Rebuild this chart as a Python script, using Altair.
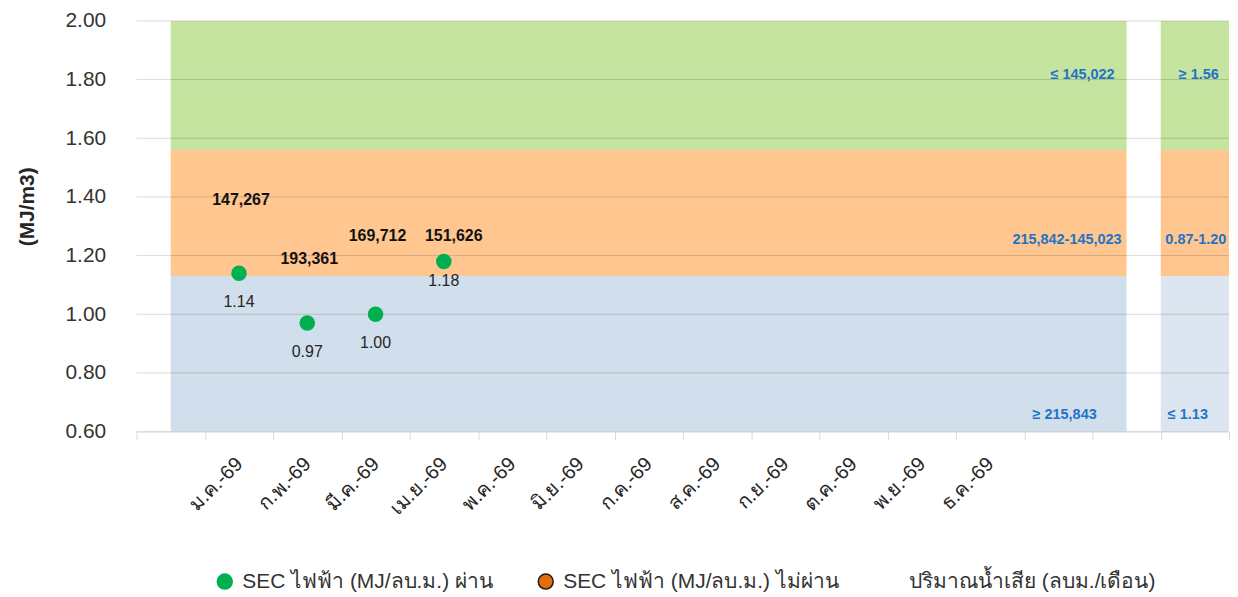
import altair as alt
import pandas as pd

FONT = "Liberation Sans, Arial, sans-serif"

# ---- data ----
months = ["ม.ค.-69", "ก.พ.-69", "มี.ค.-69", "เม.ย.-69", "พ.ค.-69", "มิ.ย.-69",
          "ก.ค.-69", "ส.ค.-69", "ก.ย.-69", "ต.ค.-69", "พ.ย.-69", "ธ.ค.-69"]
sec_months = ["ม.ค.-69", "ก.พ.-69", "มี.ค.-69", "เม.ย.-69"]
sec_values = [1.14, 0.97, 1.00, 1.18]
volumes = [147267, 193361, 169712, 151626]

series_names = ["SEC ไฟฟ้า (MJ/ลบ.ม.) ผ่าน", "SEC ไฟฟ้า (MJ/ลบ.ม.) ไม่ผ่าน", "ปริมาณน้ำเสีย (ลบม./เดือน)"]

zone_lo = [0.60, 1.13, 1.56]
zone_hi = [1.13, 1.56, 2.00]
main_labels = ["≥ 215,843", "215,842-145,023", "≤ 145,022"]
side_labels = ["≤ 1.13", "0.87-1.20", "≥ 1.56"]
y_ticks = [0.6, 0.8, 1.0, 1.2, 1.4, 1.6, 1.8, 2.0]

# ---- styles ----
zone_fill_main = ["#D1DEEC", "#FFC68F", "#C5E4A0"]
zone_fill_side = ["#DCE5F0", "#FFC68F", "#C5E4A0"]
series_fill = ["#00B050", "#E46C0A", "transparent"]
series_stroke = ["#00B050", "#1A1A1A", "transparent"]
cats = ["_0"] + months + ["_13", "_14", "_15"]

xscale = alt.Scale(domain=cats, paddingInner=0, paddingOuter=0)
yscale = alt.Scale(domain=[0.6, 2.0], nice=False, zero=False)

xaxis = alt.Axis(
    title=None, tickBand="extent", labelAngle=315, labelAlign="right", labelBaseline="middle",
    labelExpr="indexof(datum.label, '_') == 0 ? '' : datum.label",
    labelFontSize=20, labelFont=FONT, labelColor="#262626", labelPadding=21,
    domainColor="#D9D9D9", tickColor="#D9D9D9", tickSize=8, grid=False,
)
yaxis = alt.Axis(
    title="(MJ/m3)", titleFontSize=21, titleFont=FONT, titleFontWeight="bold", titleColor="#262626",
    titlePadding=28, titleY=186, values=y_ticks, format=".2f", labelFontSize=21, labelFont=FONT,
    labelColor="#333333", labelPadding=31, ticks=False, domain=False, grid=False,
)


def X(field, **kw):
    return alt.X(field, type="nominal", scale=xscale, axis=xaxis, **kw)


def Y(field):
    return alt.Y(field, type="quantitative", scale=yscale, axis=yaxis)


zones = pd.DataFrame({
    "x0": ["_0"] * 3, "x1": ["_14"] * 3, "xs": ["_15"] * 3,
    "lo": zone_lo, "hi": zone_hi,
    "fm": zone_fill_main, "fs": zone_fill_side,
    "mlab": main_labels, "slab": side_labels,
})

main_rect = alt.Chart(zones).mark_rect().encode(
    x=X("x0", bandPosition=0.5), x2=alt.X2("x1", bandPosition=0.5),
    y=Y("lo"), y2="hi", color=alt.Color("fm:N", scale=None),
)
side_rect = alt.Chart(zones).mark_rect().encode(
    x=X("xs"), y=Y("lo"), y2="hi", color=alt.Color("fs:N", scale=None),
)

grid = alt.Chart(pd.DataFrame({"v": y_ticks})).mark_rule(
    color="#000000", opacity=0.15, strokeWidth=1
).encode(y=Y("v"))

layers = [main_rect, side_rect, grid]

# zone labels
zone_mid = [(a + b) / 2 for a, b in zip(zone_lo, zone_hi)]
main_dx = [-30, -5, -12]
main_dy = [-17, 27, -10]
side_dx = [-7, 1, 4]
for i in range(3):
    anchor_y = zone_lo[i] if i == 0 else zone_mid[i]
    row = pd.DataFrame({"x": ["_14"], "xs": ["_15"], "y": [anchor_y],
                        "m": [main_labels[i]], "s": [side_labels[i]]})
    layers.append(alt.Chart(row).mark_text(
        align="right", baseline="middle", dx=main_dx[i], dy=main_dy[i],
        font=FONT, fontSize=14.5, fontWeight="bold", color="#1F74C6",
    ).encode(x=X("x"), y=Y("y"), text="m:N"))
    layers.append(alt.Chart(row).mark_text(
        align="center", baseline="middle", dx=side_dx[i], dy=main_dy[i],
        font=FONT, fontSize=14.5, fontWeight="bold", color="#1F74C6",
    ).encode(x=X("xs"), y=Y("y"), text="s:N"))

pts = pd.DataFrame({
    "month": sec_months, "sec": sec_values, "vol": volumes,
    "series": [series_names[0]] * len(sec_values),
})
pts["sec_txt"] = [f"{v:.2f}" for v in sec_values]
pts["vol_txt"] = [f"{v:,}" for v in volumes]

legend = alt.Legend(
    title=None, orient="none", legendX=78, legendY=552, direction="horizontal",
    labelFontSize=21, labelFont=FONT,
    labelColor="#333333", symbolSize=225, symbolStrokeWidth=1.5, columnPadding=42,
    labelLimit=600, symbolType="circle", labelOffset=7,
)

points = alt.Chart(pts).mark_circle(size=200, opacity=1, strokeWidth=1.5).encode(
    x=X("month"), y=Y("sec"),
    fill=alt.Fill("series:N", scale=alt.Scale(domain=series_names, range=series_fill), legend=legend),
    stroke=alt.Stroke("series:N", scale=alt.Scale(domain=series_names, range=series_stroke), legend=legend),
)
layers.append(points)

sec_dy = [29, 29, 29, 20]
vol_dy = [-73, -64, -78, -26]
vol_dx = [2, 2, 2, 10]
for i in range(len(sec_values)):
    one = pts.iloc[[i]]
    layers.append(alt.Chart(one).mark_text(
        dy=sec_dy[i], font=FONT, fontSize=16, color="#262626",
    ).encode(x=X("month"), y=Y("sec"), text="sec_txt:N"))
    layers.append(alt.Chart(one).mark_text(
        dy=vol_dy[i], dx=vol_dx[i], font=FONT, fontSize=16, fontWeight="bold", color="#111111",
    ).encode(x=X("month"), y=Y("sec"), text="vol_txt:N"))

chart = alt.layer(*layers).properties(
    width=1096, height=412,
    padding={"left": 8, "top": 1, "right": 0, "bottom": 0},
    background="white",
).configure_view(stroke=None)

chart.save("out.html", embed_options={"renderer": "svg", "actions": False})
